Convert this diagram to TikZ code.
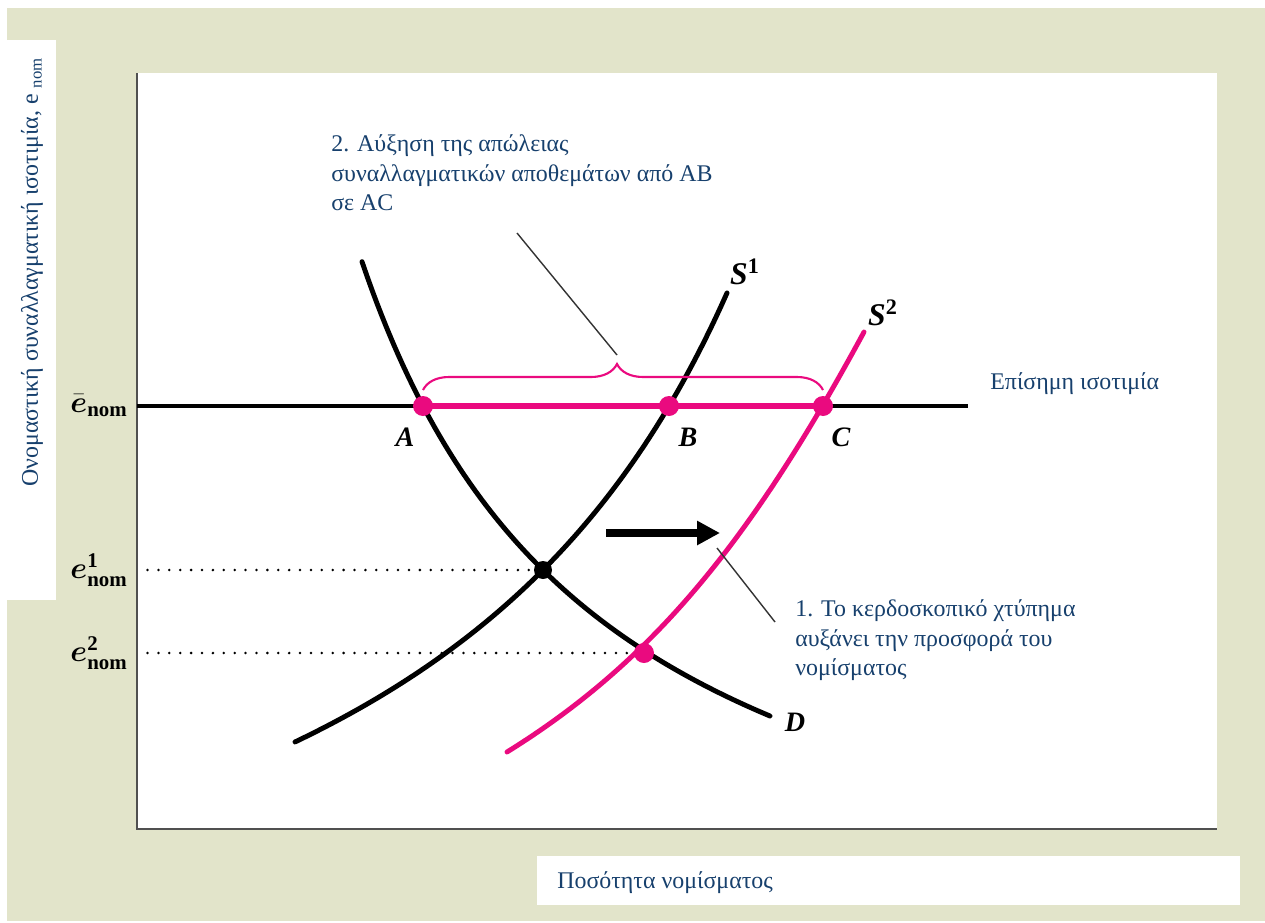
\documentclass[tikz,border=0pt]{standalone}
\usepackage{amsmath}
\usepackage{fontspec}
\setmainfont{Liberation Serif}
\usetikzlibrary{decorations.pathreplacing}
\usetikzlibrary{arrows.meta}
\definecolor{beige}{HTML}{E2E4CA}
\definecolor{pinkline}{HTML}{EA0A7F}
\definecolor{navy}{HTML}{17406D}
\definecolor{axisgray}{HTML}{505050}

\begin{document}
\begin{tikzpicture}[x=0.02cm,y=-0.02cm,
    curve/.style={line width=2.8pt,line cap=round},
    pcurve/.style={curve,pinkline},
    dotline/.style={line width=1.6pt,line cap=round,dash pattern=on 0pt off 6.2pt},
    lead/.style={line width=0.8pt,black!80},
    note/.style={navy,font=\fontsize{13.6}{17}\selectfont,align=left,inner sep=0pt},
    pt/.style={font=\fontsize{16}{16}\selectfont\bfseries\itshape,inner sep=0pt},
    tick/.style={font=\fontsize{17}{20}\selectfont,inner sep=0pt,anchor=east}]
    \useasboundingbox (0,0) rectangle (1265,923);
    \fill[beige] (7,8) rectangle (1265,921);
    \fill[white] (7,40) rectangle (56,600);
    \fill[white] (137,73) rectangle (1217,829);
    \fill[white] (537,856) rectangle (1240,905);

    \coordinate (o) at (137,829);
    \coordinate (ytop) at (137,73);
    \coordinate (xend) at (1217,829);

    \coordinate (A) at (423,406);
    \coordinate (B) at (669,406);
    \coordinate (C) at (823,406);
    \coordinate (E1) at (543,570);
    \coordinate (E2) at (644,653);
    \coordinate (peg) at (968,406);

    \draw[axisgray,line width=1.6pt] (ytop) -- (o) -- (xend);

    % dotted guides
    \draw[dotline] ([xshift=6]ytop |- E1) -- (E1);
    \draw[dotline] ([xshift=6]ytop |- E2) -- (E2);

    % demand D and supply S1, S2
    \draw[curve] plot[domain=362:770,samples=80] (\x,{991.5-1805.63/((\x-114.6)/100)});
    \draw[curve] plot[domain=295:727,samples=80] (\x,{1125.5-3072.1/((1096-\x)/100)});
    \draw[pcurve] (507,752) .. controls (657,659) and (754,535) .. (864,332);

    \draw[line width=2.8pt] (ytop |- A) -- (peg);
    \draw[pinkline,line width=3.6pt] (A) -- (C);

    \fill[pinkline] (A) circle[radius=0.2cm];
    \fill[pinkline] (B) circle[radius=0.2cm];
    \fill[pinkline] (C) circle[radius=0.2cm];
    \fill[pinkline] (E2) circle[radius=0.2cm];
    \fill (E1) circle[radius=0.18cm];

    \draw[pinkline,line width=1.2pt,decorate,
          decoration={brace,amplitude=0.52cm,aspect=0.485}] (423,390) -- (823,390);

    \coordinate (shiftL) at (606,533);
    \coordinate (shiftR) at (720,533);
    \draw[line width=4pt,-{Triangle[length=13pt,width=13pt]}] (shiftL) -- (shiftR);

    \coordinate (lead2a) at (517,233);
    \coordinate (lead2b) at (617,355);
    \coordinate (lead1a) at (717,548);
    \coordinate (lead1b) at (775,622);
    \draw[lead] (lead2a) -- (lead2b);
    \draw[lead] (lead1a) -- (lead1b);

    \node[pt] (lA) at (405,437) {A};
    \node[pt] (lB) at (688,437) {B};
    \node[pt] (lC) at (841,437) {C};
    \node[pt] (lD) at (795,722) {D};
    \node[pt,font=\fontsize{18}{18}\selectfont\bfseries\itshape] (lS1) at (745,272) {S$^{\mathbf{1}}$};
    \node[pt,font=\fontsize{18}{18}\selectfont\bfseries\itshape] (lS2) at (883,313) {S$^{\mathbf{2}}$};

    \node[tick] (ebar) at (128,406) {$\bar{\boldsymbol{e}}_{\mathbf{nom}}$};
    \node[tick] (eone) at (128,570) {$\boldsymbol{e}^{\mathbf{1}}_{\mathbf{nom}}$};
    \node[tick] (etwo) at (128,653) {$\boldsymbol{e}^{\mathbf{2}}_{\mathbf{nom}}$};

    \node[note,anchor=north west] (note2) at (331,134)
        {2. Αύξηση της απώλειας\\συναλλαγματικών αποθεμάτων από AB\\σε AC};
    \node[note,anchor=north west] (note1) at (795,599)
        {1. Το κερδοσκοπικό χτύπημα\\αυξάνει την προσφορά του\\νομίσματος};
    \node[note,anchor=west] (peglab) at (990,384) {Επίσημη ισοτιμία};
    \node[note,anchor=west] (xlab) at (557,883) {Ποσότητα νομίσματος};
    \node[note,rotate=90] (ylab) at (32,272)
        {Ονομαστική συναλλαγματική ισοτιμία, e \textsubscript{nom}};
\end{tikzpicture}
\end{document}
